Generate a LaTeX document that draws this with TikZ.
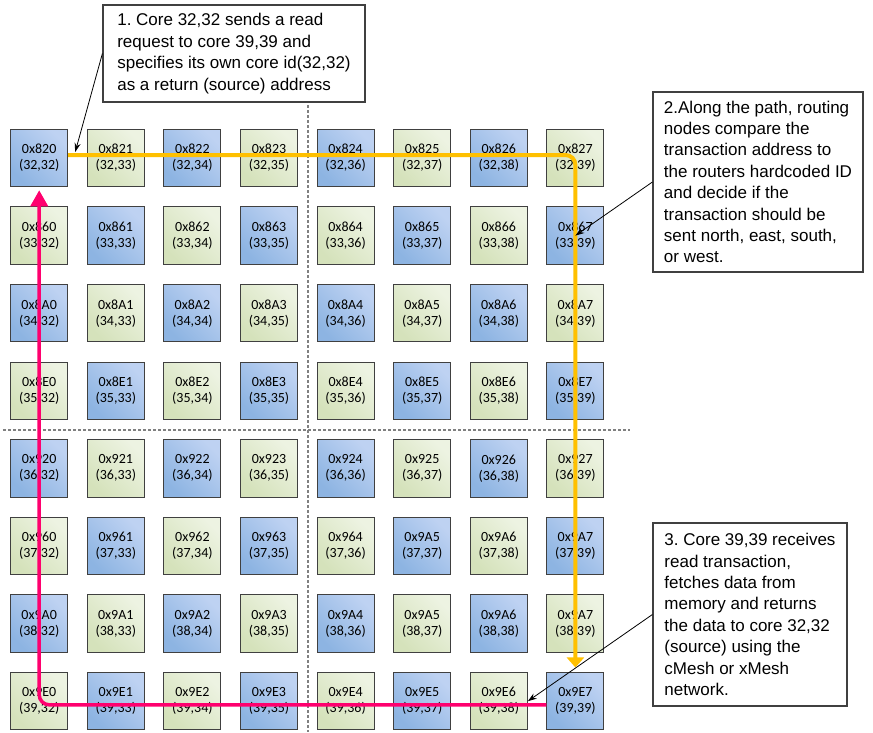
\documentclass[tikz,border=0pt]{standalone}
\usepackage{fontspec}
\setmainfont{Liberation Sans}
\newfontfamily\cellfont{Carlito}
\usepackage{tikz}
\usetikzlibrary{arrows.meta, positioning, calc}
\frenchspacing

\definecolor{cellblue}{RGB}{141,180,226}
\definecolor{cellbluelt}{RGB}{190,210,242}
\definecolor{cellgreen}{RGB}{213,226,187}
\definecolor{cellgreenlt}{RGB}{237,243,226}
\definecolor{cellline}{RGB}{64,64,64}
\definecolor{reqyellow}{RGB}{255,192,0}
\definecolor{retpink}{RGB}{255,0,110}

\tikzset{
    cell/.style={draw=cellline, line width=1pt, minimum width=57pt, minimum height=57.5pt,
        inner sep=0pt, align=center, font=\cellfont\fontsize{14}{16}\selectfont},
    bluecell/.style={cell, top color=cellbluelt, bottom color=cellblue, shading angle=-45},
    greencell/.style={cell, top color=cellgreenlt, bottom color=cellgreen, shading angle=-45},
    cellkind/.code={\ifodd#1\relax\tikzset{greencell}\else\tikzset{bluecell}\fi},
    callout/.style={draw=cellline, line width=1.2pt, fill=white, align=left,
        inner sep=0pt, font=\fontsize{17}{21.4}\selectfont},
    pointer/.style={-{Stealth[length=9pt, width=6pt]}, line width=0.8pt},
    quadline/.style={gray, line width=1.4pt, dash pattern=on 3pt off 2pt},
    reqpath/.style={reqyellow, line width=4pt, rounded corners=10pt,
        -{Triangle[length=10pt, width=17pt]}},
    retpath/.style={retpink, line width=3.5pt, rounded corners=10pt,
        -{Triangle[length=16pt, width=17pt]}}
}

\begin{document}
\begin{tikzpicture}[x=1pt, y=-1pt]
    \useasboundingbox (0,0) rectangle (873,732);

    \draw[quadline] (308,105) -- (308,732);
    \draw[quadline] (3,430) -- (630,430);

    \foreach \row [count=\r from 0] in {
        {820,821,822,823,824,825,826,827},
        {860,861,862,863,864,865,866,867},
        {8A0,8A1,8A2,8A3,8A4,8A5,8A6,8A7},
        {8E0,8E1,8E2,8E3,8E4,8E5,8E6,8E7},
        {920,921,922,923,924,925,926,927},
        {960,961,962,963,964,9A5,9A6,9A7},
        {9A0,9A1,9A2,9A3,9A4,9A5,9A6,9A7},
        {9E0,9E1,9E2,9E3,9E4,9E5,9E6,9E7}} {
        \foreach \hx [count=\c from 0] in \row {
            \pgfmathtruncatemacro\rid{32+\r}
            \pgfmathtruncatemacro\cid{32+\c}
            \pgfmathtruncatemacro\parity{mod(\r+\c,2)}
            \node[cellkind=\parity] (n-\r-\c) at ({39.2+76.6*\c},{158+77.6*\r})
                {0x\hx\\(\rid,\cid)};
        }
    }

    \draw[reqpath] ($(n-0-0.east)+(0,-3)$) -| ($(n-7-7.north)+(0,-4.5)$);
    \draw[retpath] ($(n-7-7.west)+(0,3.6)$) -| ($(n-0-0.south)+(0,3)$);

    \node[callout, minimum width=262pt, minimum height=97pt] (c1) at (234,53.5)
        {1. Core 32,32 sends a read\\request to core 39,39 and\\specifies its own core id(32,32)\\as a return (source) address};
    \node[callout, minimum width=210pt, minimum height=180pt] (c2) at (758,182)
        {2.Along the path, routing\\nodes compare the\\transaction address to\\the routers hardcoded ID\\and decide if the\\transaction should be\\sent north, east, south,\\or west.};
    \node[callout, minimum width=194pt, minimum height=183pt] (c3) at (750,614.5)
        {3. Core 39,39 receives\\read transaction,\\fetches data from\\memory and returns\\the data to core 32,32\\(source) using the\\cMesh or xMesh\\network.};

    \coordinate (t1) at ($(n-0-0.east)+(7,-6)$);
    \draw[pointer] (c1.west) -- (t1);
    \draw[pointer] (c2.west) -- (n-1-7.center);
    \draw[pointer] (c3.west) -- (n-7-6.east);
\end{tikzpicture}
\end{document}
